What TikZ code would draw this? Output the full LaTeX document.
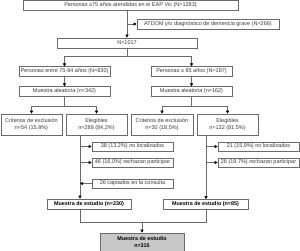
\documentclass[tikz,border=0pt]{standalone}
\usepackage{fontspec}
\setmainfont{Liberation Sans}
\usetikzlibrary{arrows.meta,positioning}
\definecolor{boxline}{HTML}{6B6B6B}
\definecolor{textgray}{HTML}{3A3A3A}
\definecolor{finalfill}{HTML}{C8C8C8}
\tikzset{
  flownode/.style={
    rectangle, draw=boxline, line width=0.6pt,
    fill=white, align=center, inner sep=0pt,
    minimum height=10pt, text=textgray,
    font=\fontsize{5.5}{6.6}\selectfont
  },
  sidenode/.style={flownode, minimum width=81pt, minimum height=9pt},
  studynode/.style={flownode, font=\fontsize{5.4}{6.6}\selectfont\bfseries, text=black},
  flowarrow/.style={-{Triangle[length=3pt,width=3pt,color=black]}, line width=0.6pt, color=boxline},
  flowline/.style={line width=0.6pt, color=boxline},
}

\begin{document}
\begin{tikzpicture}[x=1pt,y=-1pt]
  \useasboundingbox (0,0) rectangle (300,251);
  \node[flownode, minimum width=215pt] (top) at (130.5,5.5) {Personas ≥75 años atendidas en el EAP Vic (N=1283)};
  \node[flownode, minimum width=142pt] (atdom) at (208,24) {ATDOM y/o diagnóstico de demencia grave (N=266)};
  \node[flownode, minimum width=140pt] (n1017) at (127,43) {N=1017};

  \node[flownode, minimum width=91pt, minimum height=9.5pt] (p7584) at (64.5,71.5) {Personas entre 75-84 años (N=830)};
  \node[flownode, minimum width=81pt, minimum height=9.5pt] (p85) at (191.5,71.5) {Personas ≥ 85 años (N=187)};
  \node[flownode, minimum width=91pt, minimum height=9.5pt] (ma1) at (64.5,91.5) {Muestra aleatoria (n=342)};
  \node[flownode, minimum width=81pt, minimum height=9.5pt] (ma2) at (191.5,91.5) {Muestra aleatoria (n=162)};

  \node[flownode, minimum width=61pt, minimum height=21pt] (ce1) at (31.5,124.5) {Criterios de exclusión\\n=54 (15,8\%)};
  \node[flownode, minimum width=61pt, minimum height=21pt] (el1) at (96.5,124.5) {Elegibles\\n=288 (84,2\%)};
  \node[flownode, minimum width=62pt, minimum height=21pt] (ce2) at (162,124.5) {Criterios de exclusión\\n=30 (18,5\%)};
  \node[flownode, minimum width=61pt, minimum height=21pt] (el2) at (227.5,124.5) {Elegibles\\n=132 (81,5\%)};

  \node[sidenode] (nl1) at (132.5,146.5) {38 (13,2\%) no localizados};
  \node[sidenode] (rz1) at (132.5,162.5) {46 (16,0\%) rechazan participar};
  \node[sidenode] (cp1) at (132.5,183.5) {26 captados en la consulta};
  \node[sidenode] (nl2) at (258.5,146.5) {21 (15,9\%) no localizados};
  \node[sidenode] (rz2) at (258.5,162.5) {26 (19,7\%) rechazan participar};

  \node[studynode, minimum width=84pt] (me1) at (89,204) {Muestra de estudio (n=230)};
  \node[studynode, minimum width=85pt] (me2) at (205.5,204.5) {Muestra de estudio (n=85)};
  \node[studynode, fill=finalfill, minimum width=84pt, minimum height=18pt] (fin) at (142,242) {Muestra de estudio\\n=315};

  % trunks below the Elegibles boxes
  \coordinate (trunk1) at (80,0);
  \coordinate (trunk2) at (206,0);

  \draw[flowarrow] (top.south -| n1017.north) -- (n1017.north);
  \draw[flowarrow] (n1017.north |- atdom.west) -- (atdom.west);

  \draw[flowline] (n1017.south) -- ++(0,8) coordinate (split0);
  \draw[flowarrow] (split0) -| (p7584.north);
  \draw[flowarrow] (split0) -| (p85.north);
  \draw[flowarrow] (p7584) -- (ma1);
  \draw[flowarrow] (p85) -- (ma2);

  \draw[flowline] (ma1.south) -- ++(0,10) coordinate (split1);
  \draw[flowarrow] (split1) -| (ce1.north);
  \draw[flowarrow] (split1) -| (el1.north);
  \draw[flowline] (ma2.south) -- ++(0,10) coordinate (split2);
  \draw[flowarrow] (split2) -| (ce2.north);
  \draw[flowarrow] (split2) -| (el2.north);

  \draw[flowarrow] (el1.south -| trunk1) -- (me1.north -| trunk1);
  \draw[flowarrow] (trunk1 |- nl1.west) -- (nl1.west);
  \draw[flowarrow] (trunk1 |- rz1.west) -- (rz1.west);
  \draw[flowarrow] (cp1.west) -- (trunk1 |- cp1.west);
  \draw[flowarrow] (el2.south -| trunk2) -- (me2.north -| trunk2);
  \draw[flowarrow] (trunk2 |- nl2.west) -- (nl2.west);
  \draw[flowarrow] (trunk2 |- rz2.west) -- (rz2.west);

  \draw[flowline] (me1.south -| trunk1) -- ++(0,13) coordinate (join1) -| (me2.south -| trunk2);
  \draw[flowarrow] (fin.north |- join1) -- (fin.north);
\end{tikzpicture}
\end{document}
